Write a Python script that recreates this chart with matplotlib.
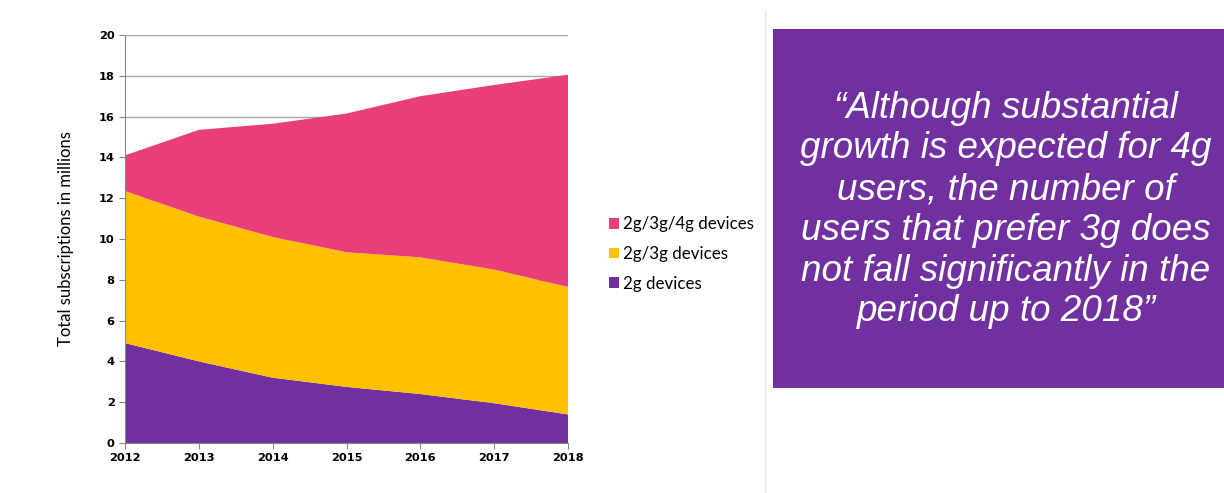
import matplotlib
matplotlib.use("Agg")
import matplotlib.pyplot as plt
from matplotlib.patches import Rectangle, Patch
from matplotlib.lines import Line2D

years = [2012, 2013, 2014, 2015, 2016, 2017, 2018]
g2 = [4.9, 4.0, 3.2, 2.75, 2.4, 1.95, 1.4]
g3 = [7.45, 7.1, 6.9, 6.6, 6.7, 6.55, 6.25]
g4 = [1.75, 4.25, 5.55, 6.8, 7.9, 9.05, 10.4]
series_labels = ["2g devices", "2g/3g devices", "2g/3g/4g devices"]
colors = ["#7030A0", "#FFC000", "#E83E7A"]
yticks = list(range(0, 21, 2))
quote = ("\u201cAlthough substantial\ngrowth is expected for 4g\nusers, the number of\n"
         "users that prefer 3g does\nnot fall significantly in the\nperiod up to 2018\u201d")

W, H = 1224, 493
fig = plt.figure(figsize=(W / 100, H / 100), dpi=100)
ax = fig.add_axes([125 / W, (H - 443) / H, (568 - 125) / W, (443 - 35) / H])

ax.stackplot(years, g2, g3, g4, colors=colors, labels=series_labels, zorder=2)
ax.set_xlim(2012, 2018)
ax.set_ylim(0, 20)
ax.set_yticks(yticks)
ax.set_xticks(years)
ax.grid(axis="y", color="#A6A6A6", linewidth=1.0, zorder=0)
ax.set_axisbelow(True)
for s in ["top", "right"]:
    ax.spines[s].set_visible(False)
for s in ["left", "bottom"]:
    ax.spines[s].set_color("#868686")
    ax.spines[s].set_zorder(3)
ax.tick_params(axis="both", direction="out", length=4, color="#868686",
               labelsize=8.2, labelcolor="#000000")
ax.tick_params(axis="x", pad=3)
for lab in ax.get_xticklabels() + ax.get_yticklabels():
    lab.set_fontfamily("DejaVu Sans")
    lab.set_fontweight("bold")
ax.set_ylabel("Total subscriptions in millions", fontsize=12, family="Lato", labelpad=18)

handles = [Patch(facecolor=c) for c in colors[::-1]]
leg = fig.legend(handles, series_labels[::-1], loc="center left",
                 bbox_to_anchor=(594 / W, (H - 254) / H), frameon=False,
                 prop={"family": "Lato", "size": 12.2}, handlelength=0.55, handleheight=0.55,
                 handletextpad=0.25, labelspacing=0.8)

# separator line
fig.add_artist(Line2D([765 / W, 765 / W], [0, 1 - 10 / H], color="#E6E6E6", linewidth=1))
# purple box
fig.add_artist(Rectangle((773 / W, (H - 388) / H), (W - 773) / W, (388 - 29) / H,
                         facecolor="#7030A0", edgecolor="none", transform=fig.transFigure))
fig.text(1006 / W, (H - 210) / H, quote, color="white", fontsize=26.5, style="italic",
         family="Liberation Sans", ha="center", va="center", linespacing=1.21)

fig.savefig("out.png", dpi=100)
